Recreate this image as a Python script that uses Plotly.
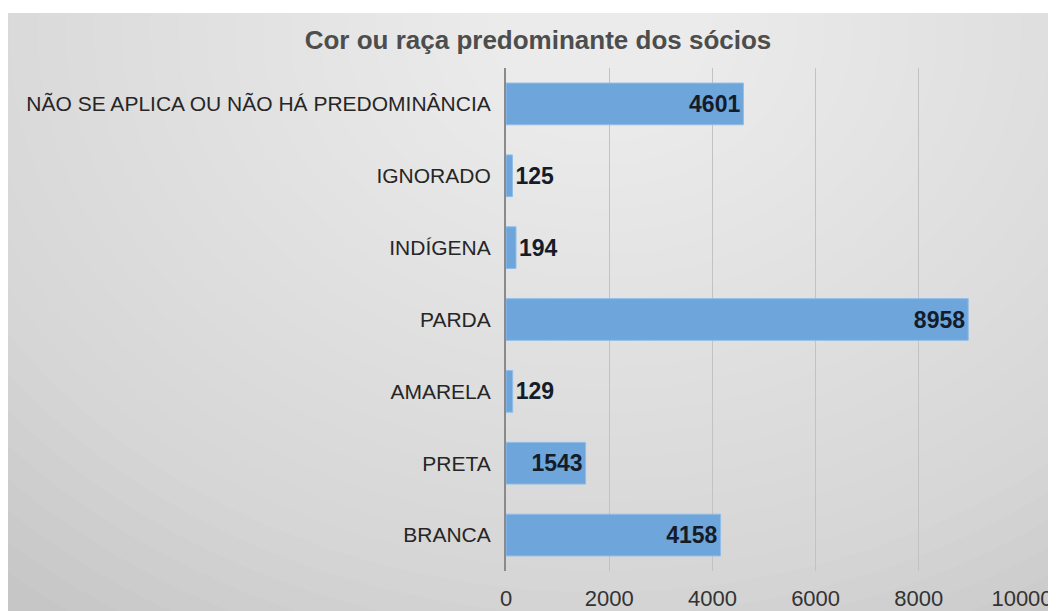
import plotly.graph_objects as go

# data (bottom to top as drawn)
categorias = ["BRANCA", "PRETA", "AMARELA", "PARDA", "INDÍGENA", "IGNORADO",
              "NÃO SE APLICA OU NÃO HÁ PREDOMINÂNCIA"]
socios = [4158, 1543, 129, 8958, 194, 125, 4601]
x_ticks = [0, 2000, 4000, 6000, 8000, 10000]

# the page body adds an 8px margin, so the figure is drawn 8px smaller
W, H = 1048, 603
L, R, T, B = 498, 1014, 60, 563  # plot area in figure pixels


def px(x):
    return (x - L) / (R - L)


def py(y):
    return (B - y) / (B - T)


# background: grey card with a soft light spot near the title
shapes = [dict(type="rect", xref="paper", yref="paper", layer="below",
               x0=px(0), x1=px(W), y0=py(5), y1=py(H),
               fillcolor="#c6c6c6", line=dict(width=0))]
n = 32
for i in range(n):
    rx = 900 * (1 - i / n)
    ry = rx * 0.8
    cx, cy = 592, 22
    shapes.append(dict(type="circle", xref="paper", yref="paper", layer="below",
                       x0=px(cx - rx), x1=px(cx + rx), y0=py(cy + ry), y1=py(cy - ry),
                       fillcolor="white", opacity=0.048, line=dict(width=0)))

fig = go.Figure()
fig.add_trace(go.Bar(
    x=socios, y=categorias, orientation="h",
    marker=dict(color="#6ea5da", line=dict(color="#8fbde9", width=1)),
    text=[str(v) for v in socios], textposition="auto", insidetextanchor="end",
    textfont=dict(family="Liberation Sans", size=23, color="#141c2a", weight="bold"),
    constraintext="none", cliponaxis=False, hoverinfo="skip",
))

fig.update_layout(
    width=W, height=H,
    margin=dict(l=L, r=W - R, t=T, b=H - B),
    paper_bgcolor="white", plot_bgcolor="rgba(0,0,0,0)",
    shapes=shapes,
    showlegend=False,
    bargap=0.42,
    font=dict(family="Liberation Sans", color="#262626"),
    title=dict(text="<b>Cor ou raça predominante dos sócios</b>",
               x=530 / W, xanchor="center", y=1 - 32 / H, yanchor="middle",
               font=dict(size=26, color="#4d4d4d")),
)
fig.update_xaxes(range=[0, 10000], tickvals=x_ticks, tickformat="d", showgrid=True,
                 gridcolor="#c2c2c2", gridwidth=1, zeroline=False, automargin=False,
                 showline=False, ticks="outside", ticklen=8, tickcolor="rgba(0,0,0,0)",
                 tickfont=dict(size=22, color="#333333"))
fig.update_yaxes(showline=True, linecolor="#8a8a8a", linewidth=2, automargin=False,
                 ticks="outside", ticklen=9, tickcolor="rgba(0,0,0,0)",
                 tickfont=dict(size=21, color="#262626"))

fig.write_html("out.html")
